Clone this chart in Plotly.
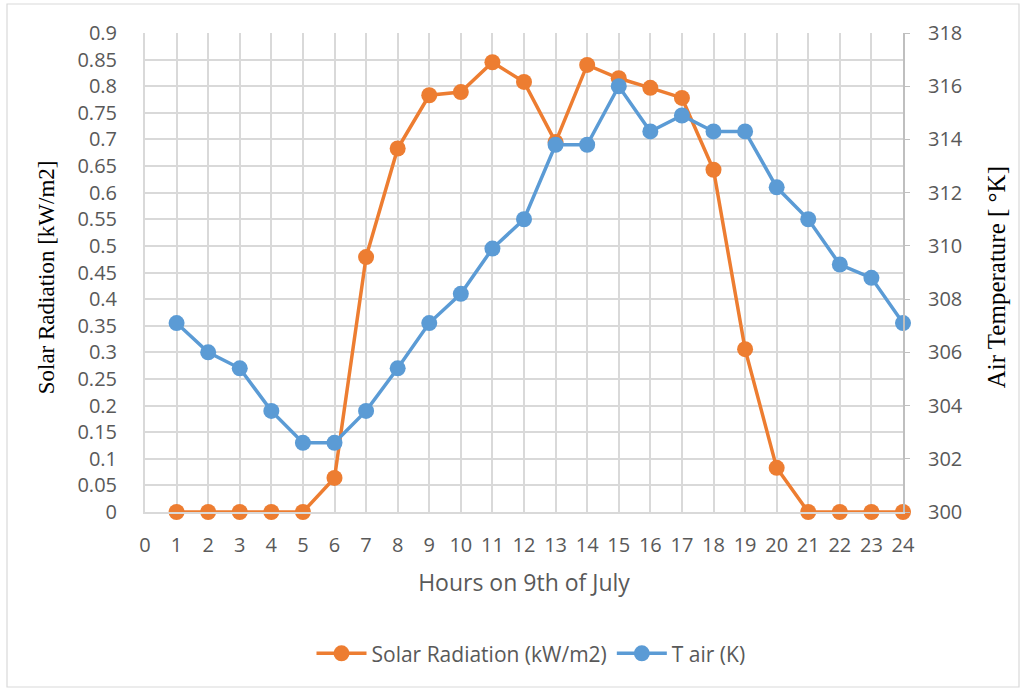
import plotly.graph_objects as go

hours = list(range(1, 25))
solar = [0, 0, 0, 0, 0, 0.064, 0.479, 0.683, 0.783, 0.789, 0.845, 0.808, 0.695, 0.840,
         0.815, 0.797, 0.778, 0.643, 0.306, 0.083, 0, 0, 0, 0]
tair = [307.1, 306.0, 305.4, 303.8, 302.6, 302.6, 303.8, 305.4, 307.1, 308.2, 309.9, 311.0,
        313.8, 313.8, 316.0, 314.3, 314.9, 314.3, 314.3, 312.2, 311.0, 309.3, 308.8, 307.1]
left_ticks = [round(i * 0.05, 2) for i in range(19)]
left_labels = [("%g" % v) for v in left_ticks]
right_ticks = list(range(300, 319, 2))
x_ticks = list(range(0, 25))

ORANGE = "#ED7D31"
BLUE = "#5B9BD5"
GRID = "#D9D9D9"
TXT = "#595959"
SANS = "Open Sans, Liberation Sans, sans-serif"
SERIF = "Liberation Serif, Times New Roman, serif"
TICKFONT = dict(family=SANS, size=20, color=TXT)

fig = go.Figure()
fig.add_trace(go.Scatter(x=hours, y=solar, name="Solar Radiation (kW/m2)", mode="lines+markers",
                         line=dict(color=ORANGE, width=3.5), marker=dict(size=16, color=ORANGE),
                         cliponaxis=False, yaxis="y"))
fig.add_trace(go.Scatter(x=hours, y=tair, name="T air (K)", mode="lines+markers",
                         line=dict(color=BLUE, width=3.5), marker=dict(size=16, color=BLUE),
                         cliponaxis=False, yaxis="y2"))

fig.update_layout(
    width=1026, height=691,
    margin=dict(l=145, r=123, t=33, b=179),
    paper_bgcolor="white", plot_bgcolor="white",
    showlegend=True,
    legend=dict(orientation="h", x=0.5 + 7 / 758, xanchor="center", y=-0.253, yanchor="top",
                font=dict(family=SANS, size=21, color=TXT), itemwidth=50),
    xaxis=dict(range=[0, 24], tickvals=x_ticks, ticktext=[str(v) for v in x_ticks],
               showgrid=True, gridcolor=GRID, gridwidth=2, zeroline=False,
               showline=True, linecolor=GRID, linewidth=2, tickfont=TICKFONT, ticks="",
               ticklabelstandoff=14,
               title=dict(text="Hours on 9th of July", font=dict(family=SANS, size=23, color=TXT),
                          standoff=18)),
    yaxis=dict(range=[0, 0.9], tickvals=left_ticks, ticktext=left_labels, showgrid=True,
               gridcolor=GRID, gridwidth=2, zeroline=False, showline=True, linecolor=GRID,
               linewidth=2, tickfont=TICKFONT, ticks="", ticklabelstandoff=22),
    yaxis2=dict(range=[300, 318], tickvals=right_ticks, overlaying="y", side="right",
                showgrid=False, zeroline=False, showline=True, linecolor="#BFBFBF", linewidth=2,
                ticks="outside", ticklen=5, tickcolor="#BFBFBF", tickfont=TICKFONT,
                ticklabelstandoff=14),
    shapes=[dict(type="rect", xref="paper", yref="paper", x0=-138/758, x1=(1019-145)/758,
                 y0=-(687-512)/479, y1=(512-4)/479, line=dict(color="#D9D9D9", width=1.2))],
    annotations=[
        dict(text="Solar Radiation [kW/m2]", xref="paper", yref="paper", x=(46-145)/758, y=0.49,
             textangle=-90, showarrow=False, xanchor="center", yanchor="middle",
             font=dict(family=SERIF, size=23, color="black")),
        dict(text="Air Temperature [ °K]", xref="paper", yref="paper", x=(996-145)/758, y=0.49,
             textangle=-90, showarrow=False, xanchor="center", yanchor="middle",
             font=dict(family=SERIF, size=25, color="black")),
    ],
)

fig.write_html("out.html")
